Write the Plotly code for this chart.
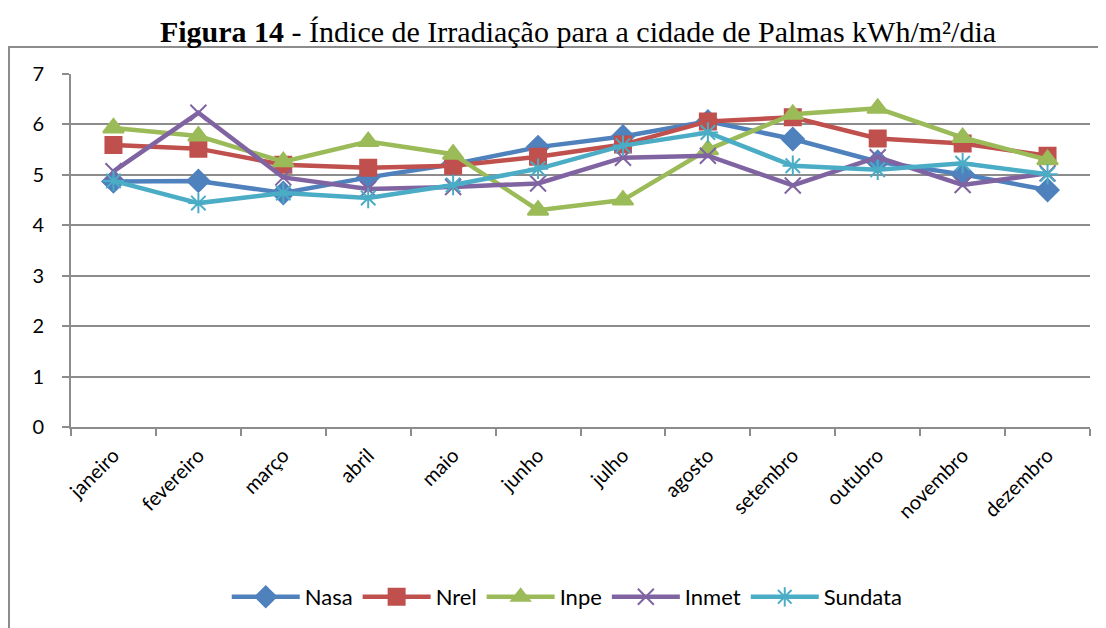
import plotly.graph_objects as go

meses = ["janeiro", "fevereiro", "março", "abril", "maio", "junho",
         "julho", "agosto", "setembro", "outubro", "novembro", "dezembro"]

nasa = [4.87, 4.88, 4.64, 4.95, 5.21, 5.55, 5.76, 6.06, 5.71, 5.26, 5.01, 4.70]
nrel = [5.59, 5.52, 5.20, 5.14, 5.18, 5.36, 5.60, 6.06, 6.14, 5.72, 5.62, 5.38]
inpe = [5.93, 5.77, 5.26, 5.66, 5.41, 4.30, 4.50, 5.50, 6.20, 6.32, 5.74, 5.30]
inmet = [5.07, 6.23, 4.95, 4.72, 4.76, 4.83, 5.34, 5.38, 4.79, 5.35, 4.80, 5.03]
sundata = [4.88, 4.44, 4.64, 4.54, 4.80, 5.12, 5.58, 5.84, 5.18, 5.10, 5.23, 5.01]

series = [
    ("Nasa", nasa, "#4F81BD", "diamond", 17),
    ("Nrel", nrel, "#C0504D", "square", 16),
    ("Inpe", inpe, "#9BBB59", "triangle-up", 18),
    ("Inmet", inmet, "#8064A2", "x-thin-open", 16),
    ("Sundata", sundata, "#4BACC6", "asterisk-open", 17),
]

fig = go.Figure()
for nome, vals, cor, simb, tam in series:
    fig.add_trace(go.Scatter(
        x=meses, y=vals, name=nome, mode="lines+markers",
        line=dict(color=cor, width=4.5),
        marker=dict(symbol=simb, size=tam, color=cor,
                    line=dict(color=cor, width=2)),
    ))

# a página tem margem de 8px, então tudo é deslocado 8px para cima/esquerda
L, T, B = 63, 66, 209
ph = 628 - T - B

# moldura externa do gráfico (estilo Excel)
fig.add_shape(type="rect", xref="paper", yref="paper",
              x0=(1 - L) / 1019, x1=1.05, y0=-0.7, y1=(ph + T - 39) / ph,
              line=dict(color="#8c8c8c", width=2), layer="below")

fig.update_layout(
    width=1106, height=628,
    margin=dict(l=L, r=24, t=T, b=B, autoexpand=False),
    paper_bgcolor="white", plot_bgcolor="white",
    font=dict(family="Lato, Open Sans, sans-serif", size=20, color="black"),
    title=dict(
        text="<b>Figura 14</b> - Índice de Irradiação para a cidade de Palmas kWh/m²/dia",
        x=570 / 1106, xref="container", xanchor="center",
        y=1 - 23 / 628, yref="container", yanchor="middle",
        font=dict(family="Liberation Serif, Times New Roman, serif", size=30, color="black"),
    ),
    showlegend=True,
    legend=dict(orientation="h", x=0.487, xanchor="center", y=(T + ph - 589) / ph,
                yanchor="middle", font=dict(size=22), itemwidth=68, traceorder="normal"),
    xaxis=dict(
        type="category", range=[-0.5, 11.5], tickangle=-45, automargin=False,
        showline=True, linecolor="#8c8c8c", linewidth=2,
        ticks="outside", tickson="boundaries", ticklen=7, tickcolor="#8c8c8c", tickwidth=2,
        showgrid=False, tickfont=dict(size=20), ticklabelstandoff=7,
    ),
    yaxis=dict(
        range=[0, 7], dtick=1, showline=True, linecolor="#8c8c8c", linewidth=2,
        automargin=False,
        ticks="outside", ticklen=7, tickcolor="#8c8c8c", tickwidth=2,
        showgrid=True, gridcolor="#8c8c8c", gridwidth=2, zeroline=False,
        tickfont=dict(size=20), ticklabelstandoff=14,
    ),
)

fig.write_html("out.html")
